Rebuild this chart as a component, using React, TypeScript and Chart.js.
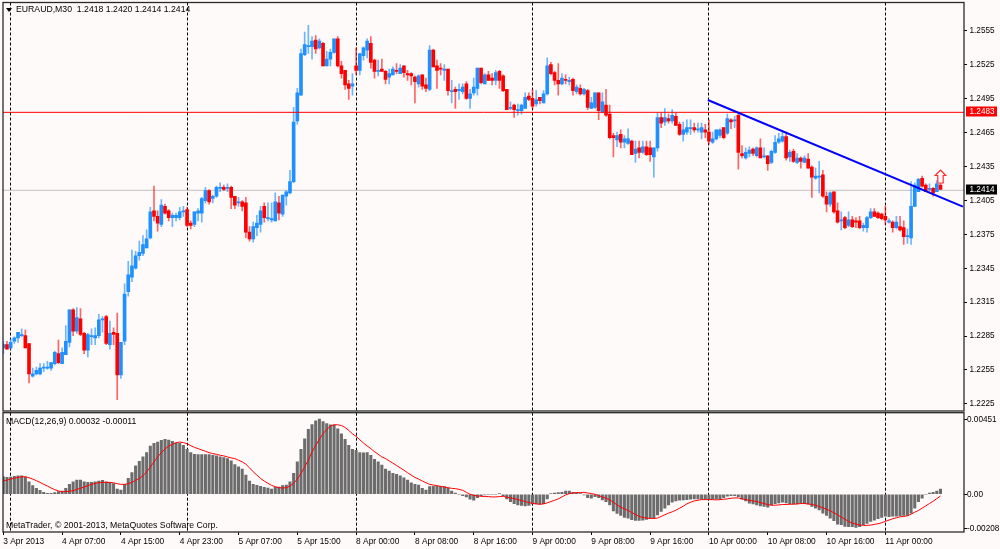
import React, { useEffect, useRef } from "react";
import { Chart, registerables } from "chart.js";

Chart.register(...registerables);

const opens = [
  273,276,273,279,282,284,284,277,248,250,
  250,255,255,255,259,268,259,267,278,307,
  288,299,286,271,283,282,284,298,301,276,
  287,286,249,279,323,336,344,355,357,362,
  371,395,390,383,399,395,389,389,389,394,
  396,384,383,393,393,404,413,406,408,415,
  416,415,416,408,402,403,402,376,370,380,
  383,399,388,387,386,402,392,408,411,421,
  475,498,534,541,541,547,540,544,524,530,
  536,548,524,520,508,506,524,520,533,538,
  544,529,519,521,519,514,516,520,517,524,
  517,517,514,508,516,507,503,538,524,522,
  520,521,501,503,502,501,508,495,500,504,
  522,508,516,513,511,519,515,503,486,489,
  484,484,486,497,495,490,496,491,499,525,
  518,511,508,512,510,512,501,504,499,502,
  486,487,500,483,489,481,462,458,463,456,
  455,457,446,451,447,452,451,443,451,478,
  474,477,475,479,472,463,465,468,469,467,
  465,467,465,456,459,462,469,464,476,475,
  480,446,442,446,450,444,451,443,444,438,
  447,456,457,461,443,448,438,442,438,441,
  434,424,425,427,408,401,412,395,386,389,
  382,387,386,386,380,380,389,394,393,392,
  390,385,385,380,381,380,372,371,399,412,
  424,418,414,415,412,418,
];
const closes = [
  276,272,278,282,287,285,273,250,250,253,
  255,256,256,260,269,260,269,279,307,288,
  300,285,271,285,284,284,298,299,277,286,
  285,249,278,321,338,346,355,358,365,370,
  394,390,384,400,393,389,391,391,394,395,
  382,382,394,395,406,413,403,408,416,416,
  414,416,407,400,403,399,376,370,381,384,
  395,389,389,388,403,393,409,412,421,474,
  500,535,543,542,546,539,546,524,530,536,
  548,524,517,507,504,508,520,535,540,546,
  527,519,520,519,512,517,521,519,522,518,
  516,515,510,515,506,504,538,523,520,521,
  521,502,502,501,503,505,495,499,505,522,
  509,516,511,511,518,511,502,485,487,485,
  485,489,496,494,488,494,493,499,524,517,
  511,508,513,511,511,502,505,499,503,487,
  491,500,484,492,480,460,460,462,456,459,
  459,445,450,447,452,445,445,451,478,473,
  478,475,480,471,463,467,469,469,467,468,
  469,465,457,459,467,467,460,477,474,476,
  447,444,447,449,446,451,442,444,437,448,
  456,459,461,442,447,439,442,439,442,433,
  425,426,426,408,401,411,394,385,387,380,
  387,381,385,380,382,389,394,390,389,388,
  387,386,380,385,378,372,373,399,418,423,
  417,412,415,411,419,414,
];
const highs = [
  279,279,281,283,287,290,289,277,255,256,
  259,259,261,260,270,280,273,293,307,308,
  309,308,287,286,290,291,303,301,302,297,
  291,304,278,330,350,360,359,368,373,378,
  398,417,395,405,401,396,393,393,398,399,
  398,386,394,397,407,416,414,409,417,420,
  418,419,417,408,407,404,407,381,385,391,
  399,402,402,402,411,408,409,413,431,487,
  504,539,554,560,550,551,548,545,537,539,
  548,550,528,520,511,517,540,535,541,548,
  550,530,529,530,520,521,523,526,525,524,
  520,518,515,516,516,513,542,539,529,526,
  525,521,511,505,508,508,510,503,513,522,
  522,517,519,517,520,520,516,503,492,490,
  490,490,500,500,503,502,496,502,531,527,
  519,526,517,516,514,513,507,507,504,503,
  496,500,500,500,503,489,464,465,467,462,
  468,458,457,457,457,457,457,451,482,482,
  486,481,485,482,474,474,476,476,473,473,
  473,472,476,465,467,468,469,481,477,479,
  482,453,451,452,451,452,459,451,444,449,
  462,464,465,465,449,450,446,443,444,446,
  435,433,439,431,412,412,412,402,394,390,
  394,390,389,390,384,390,397,397,394,393,
  399,388,386,390,390,386,379,421,420,424,
  426,419,419,416,422,420,
];
const lows = [
  268,272,272,277,278,283,273,242,247,249,
  249,252,254,253,258,259,259,267,274,284,
  286,284,268,265,276,276,282,287,276,272,
  276,227,246,276,319,332,343,351,355,362,
  370,386,377,381,392,386,381,386,387,390,
  381,379,381,386,385,402,401,402,407,412,
  413,412,397,397,399,395,371,368,367,373,
  376,385,386,385,386,387,390,400,410,420,
  472,498,533,535,530,535,539,524,524,524,
  535,523,513,503,494,498,516,516,529,531,
  522,513,515,519,508,508,516,517,517,514,
  511,507,491,505,503,501,502,523,504,516,
  511,498,491,486,494,499,494,486,498,498,
  508,508,511,507,507,504,501,485,485,478,
  480,481,486,493,486,488,490,491,498,516,
  507,498,507,508,507,498,499,498,498,485,
  486,486,476,482,479,459,443,452,451,451,
  454,445,438,442,446,444,439,425,448,469,
  471,473,473,471,462,457,463,463,465,465,
  459,460,454,455,458,460,459,463,468,469,
  432,442,441,443,444,443,442,442,431,437,
  446,455,456,440,439,438,437,433,438,433,
  407,423,411,407,394,399,393,384,378,379,
  381,380,380,379,377,376,388,390,388,387,
  383,384,376,379,377,365,366,365,399,412,
  416,412,411,408,412,414,
];

// MACD values are stored in units of 0.00001
const macdHist = [
  106,102,104,108,112,112,104,76,52,36,
  24,12,6,6,10,16,20,36,60,76,
  86,86,76,72,72,76,80,84,76,72,
  64,32,26,60,96,132,172,200,226,252,
  292,308,316,326,332,328,320,310,308,296,
  272,252,242,240,240,240,240,236,232,226,
  222,216,202,180,166,152,116,80,60,54,
  48,42,38,32,42,44,52,56,76,126,
  196,272,336,392,422,444,454,440,428,420,
  420,396,366,332,296,272,266,252,250,252,
  236,212,196,176,152,140,126,120,112,100,
  86,70,60,56,36,26,46,48,48,48,
  46,36,20,8,0,-8,-16,-30,-36,-20,
  -8,-4,0,0,0,4,-8,-28,-44,-56,
  -64,-68,-70,-68,-58,-58,-60,-56,-28,4,
  8,10,12,20,20,12,10,4,-4,-20,
  -24,-14,-20,-34,-44,-64,-100,-116,-128,-140,
  -144,-154,-158,-158,-156,-152,-144,-144,-124,-104,
  -84,-64,-48,-40,-36,-34,-32,-30,-28,-28,
  -28,-28,-28,-28,-28,-26,-20,-12,-8,-8,
  -14,-30,-40,-54,-58,-64,-70,-74,-78,-64,
  -56,-52,-48,-52,-58,-58,-58,-54,-56,-60,
  -74,-84,-94,-114,-128,-144,-160,-180,-184,-194,
  -196,-196,-200,-196,-184,-176,-164,-156,-148,-140,
  -132,-136,-132,-132,-130,-128,-128,-114,-84,-44,
  -24,0,8,12,20,32,
];
const macdSignal = [
  80,86,92,98,102,106,106,100,92,82,
  72,60,50,38,28,20,16,16,18,22,
  30,36,44,52,60,66,70,72,72,72,
  70,64,60,60,64,72,84,96,112,136,
  164,196,226,252,274,292,302,312,316,312,
  306,294,284,276,268,260,252,246,242,236,
  232,226,220,216,206,196,182,160,136,116,
  96,80,66,54,46,40,38,40,50,66,
  92,126,166,206,256,296,332,366,392,412,
  420,420,416,404,386,366,350,330,310,292,
  276,258,242,226,216,202,188,174,160,146,
  130,116,102,92,80,70,60,56,52,48,
  44,40,36,34,30,24,12,0,-6,-10,
  -12,-14,-14,-16,-16,-14,-12,-18,-22,-26,
  -32,-38,-44,-50,-54,-58,-60,-58,-52,-44,
  -36,-28,-16,-4,4,8,10,10,12,8,
  4,0,-8,-16,-24,-34,-48,-64,-78,-88,
  -98,-110,-122,-134,-140,-144,-146,-146,-144,-134,
  -124,-114,-106,-96,-84,-72,-58,-48,-40,-36,
  -32,-32,-32,-32,-34,-32,-30,-28,-24,-22,
  -22,-28,-32,-36,-40,-44,-50,-56,-62,-66,
  -66,-64,-62,-62,-60,-60,-58,-56,-56,-58,
  -62,-66,-74,-82,-90,-100,-112,-124,-138,-150,
  -164,-174,-180,-186,-188,-188,-186,-182,-178,-172,
  -164,-156,-148,-142,-136,-134,-130,-120,-108,-98,
  -84,-70,-56,-42,-26,-11,
];

const timeLabels = [
  "3 Apr 2013","4 Apr 07:00","4 Apr 15:00","4 Apr 23:00","5 Apr 07:00","5 Apr 15:00",
  "8 Apr 00:00","8 Apr 08:00","8 Apr 16:00","9 Apr 00:00","9 Apr 08:00","9 Apr 16:00",
  "10 Apr 00:00","10 Apr 08:00","10 Apr 16:00","11 Apr 00:00",
];
const barsPerLabel = 16;
const daySeparators = [2, 50, 96, 144, 192, 240];
const priceTicks = [1.2225,1.2255,1.2285,1.2315,1.2345,1.2375,1.2405,1.2435,1.2465,1.2495,1.2525,1.2555];
const macdTicks = [-0.00208, 0, 0.00451];
const bidPrice = 1.2414;
const levelPrice = 1.2483;
const trendStart = { x: 191.7, y: 1.24939 };
const trendEnd = { x: 261.1, y: 1.23995 };
const arrowBar = 255;
const arrowPrice = 1.24262;
const titleText = "EURAUD,M30  1.2418 1.2420 1.2414 1.2414";
const macdText = "MACD(12,26,9) 0.00032 -0.00011";
const copyrightText = "MetaTrader, \u00A9 2001-2013, MetaQuotes Software Corp.";

const BG = "#FFFAFA";
const UP = "#1E90FF";
const DOWN = "#FF0000";
const UP_WICK = "rgba(30,144,255,0.65)";
const DOWN_WICK = "rgba(255,0,0,0.6)";
const FONT = "Liberation Sans";
const TEXT_SIZE = 8.7;
const X_MIN = -0.082;
const X_MAX = 261.4;
// axis calibration refinement of the pip readings, anchored on the 1.2555 tick
const toPrice = (p: number) => 1.2 + (555 - (555 - p) * 0.9947) / 10000;

const noPadding = (ax: any) => {
  ax.paddingTop = 0;
  ax.paddingBottom = 0;
  ax.paddingLeft = 0;
  ax.paddingRight = 0;
};

const separatorsPlugin = {
  id: "separators",
  beforeDatasetsDraw(chart: any) {
    const { ctx, chartArea: a, scales } = chart;
    ctx.save();
    ctx.strokeStyle = "#000";
    ctx.lineWidth = 1;
    ctx.setLineDash([3, 2]);
    daySeparators.forEach((i) => {
      const x = Math.floor(scales.x.getPixelForValue(i)) + 0.5;
      ctx.beginPath();
      ctx.moveTo(x, a.top);
      ctx.lineTo(x, a.bottom);
      ctx.stroke();
    });
    ctx.restore();
  },
};

const framePlugin = {
  id: "frame",
  afterDraw(chart: any) {
    const { ctx, chartArea: a } = chart;
    ctx.save();
    ctx.strokeStyle = "#2a2a2a";
    ctx.lineWidth = 1.3;
    ctx.strokeRect(a.left, a.top, a.right - a.left, a.bottom - a.top);
    ctx.restore();
  },
};

const priceOverlayPlugin = {
  id: "priceOverlay",
  afterDraw(chart: any) {
    const { ctx, chartArea: a, scales } = chart;
    ctx.save();
    const box = (price: number, fill: string) => {
      const y = scales.y.getPixelForValue(price);
      ctx.fillStyle = fill;
      ctx.fillRect(966, Math.round(y) - 5.5, 31, 10);
      ctx.fillStyle = "#fff";
      ctx.font = `8.2px '${FONT}'`;
      ctx.textAlign = "left";
      ctx.textBaseline = "middle";
      ctx.fillText(price.toFixed(4), 969.5, Math.round(y));
    };
    box(levelPrice, "#FF0000");
    box(bidPrice, "#000");

    // buy arrow
    const ax = scales.x.getPixelForValue(arrowBar);
    const ay = scales.y.getPixelForValue(arrowPrice);
    ctx.strokeStyle = "#FF3030";
    ctx.fillStyle = BG;
    ctx.lineWidth = 1.2;
    ctx.beginPath();
    ctx.moveTo(ax, ay - 6.5);
    ctx.lineTo(ax + 5.3, ay - 1);
    ctx.lineTo(ax + 2.7, ay - 1);
    ctx.lineTo(ax + 2.7, ay + 6.5);
    ctx.lineTo(ax - 2.7, ay + 6.5);
    ctx.lineTo(ax - 2.7, ay - 1);
    ctx.lineTo(ax - 5.3, ay - 1);
    ctx.closePath();
    ctx.fill();
    ctx.stroke();

    // header
    ctx.fillStyle = "#000";
    ctx.beginPath();
    ctx.moveTo(a.left + 3, 8);
    ctx.lineTo(a.left + 9, 8);
    ctx.lineTo(a.left + 6, 12);
    ctx.closePath();
    ctx.fill();
    ctx.font = `${TEXT_SIZE}px '${FONT}'`;
    ctx.textAlign = "left";
    ctx.textBaseline = "middle";
    ctx.fillText(titleText, 16, 9.5);
    ctx.restore();
  },
};

const macdOverlayPlugin = {
  id: "macdOverlay",
  afterDraw(chart: any) {
    const { ctx } = chart;
    ctx.save();
    ctx.fillStyle = "#000";
    ctx.font = `${TEXT_SIZE}px '${FONT}'`;
    ctx.textAlign = "left";
    ctx.textBaseline = "middle";
    ctx.fillText(macdText, 6, 10.5);
    ctx.fillText(copyrightText, 6, 114.7);
    ctx.restore();
  },
};

export default function App() {
  const topRef = useRef<HTMLCanvasElement>(null);
  const botRef = useRef<HTMLCanvasElement>(null);

  useEffect(() => {
    const indices = opens.map((_, i) => i);
    const colorOf = (i: number, up: string, down: string) => (closes[i] >= opens[i] ? up : down);
    const xBase = { type: "linear" as const, min: X_MIN, max: X_MAX, offset: false };

    const top = new Chart(topRef.current as HTMLCanvasElement, {
      type: "bar",
      data: {
        datasets: [
          {
            type: "line",
            data: [trendStart, trendEnd],
            borderColor: "#0000FF",
            borderWidth: 2,
            pointRadius: 0,
            order: 0,
          },
          {
            type: "line",
            data: [{ x: X_MIN, y: levelPrice }, { x: X_MAX, y: levelPrice }],
            borderColor: "#FF0000",
            borderWidth: 1,
            pointRadius: 0,
            order: 1,
          },
          {
            type: "bar",
            data: indices.map((i) => ({ x: i, y: [toPrice(opens[i]), toPrice(closes[i])] })),
            backgroundColor: indices.map((i) => colorOf(i, UP, DOWN)),
            barThickness: 3,
            grouped: false,
            order: 2,
          },
          {
            type: "bar",
            data: indices.map((i) => ({ x: i, y: [toPrice(lows[i]), toPrice(highs[i])] })),
            backgroundColor: indices.map((i) => colorOf(i, UP_WICK, DOWN_WICK)),
            barThickness: 1,
            grouped: false,
            order: 3,
          },
          {
            type: "line",
            data: [{ x: X_MIN, y: bidPrice }, { x: X_MAX, y: bidPrice }],
            borderColor: "#C0C0C0",
            borderWidth: 1,
            pointRadius: 0,
            order: 4,
          },
        ] as any,
      },
      options: {
        responsive: false,
        animation: false,
        events: [],
        layout: { padding: { left: 3, top: 2.5, bottom: 1, right: 0 } },
        plugins: { legend: { display: false }, tooltip: { enabled: false } },
        scales: {
          x: { ...xBase, display: false, afterFit: noPadding },
          y: {
            type: "linear",
            position: "right",
            min: 1.22187,
            max: 1.25802,
            afterBuildTicks: (ax: any) => {
              ax.ticks = priceTicks.map((value) => ({ value }));
            },
            afterFit: (ax: any) => {
              ax.width = 36;
              noPadding(ax);
            },
            border: { display: false },
            grid: { drawOnChartArea: false, tickLength: 3, color: "#000" },
            ticks: {
              callback: (v: any) => Number(v).toFixed(4),
              font: { family: FONT, size: 8.2 },
              color: "#000",
              padding: 2.5,
              autoSkip: false,
            },
          },
        },
      } as any,
      plugins: [separatorsPlugin, framePlugin, priceOverlayPlugin] as any,
    });

    const bottom = new Chart(botRef.current as HTMLCanvasElement, {
      type: "bar",
      data: {
        datasets: [
          {
            type: "line",
            data: indices.map((i) => ({ x: i, y: macdSignal[i] / 100000 })),
            borderColor: "#FF0000",
            borderWidth: 1,
            pointRadius: 0,
            order: 0,
          },
          {
            type: "bar",
            data: indices.map((i) => ({ x: i, y: macdHist[i] / 100000 })),
            backgroundColor: "#6c6c6c",
            barThickness: 2.4,
            grouped: false,
            order: 1,
          },
        ] as any,
      },
      options: {
        responsive: false,
        animation: false,
        events: [],
        layout: { padding: { left: 3, top: 1.7, bottom: 0, right: 0 } },
        plugins: { legend: { display: false }, tooltip: { enabled: false } },
        scales: {
          x: {
            ...xBase,
            position: "bottom",
            afterBuildTicks: (ax: any) => {
              ax.ticks = timeLabels.map((_, k) => ({ value: k * barsPerLabel }));
            },
            afterFit: (ax: any) => {
              ax.height = 17;
              noPadding(ax);
            },
            border: { display: false },
            grid: { drawOnChartArea: false, offset: false, tickLength: 3, color: "#000" },
            ticks: {
              callback: (v: any) => timeLabels[Math.round(Number(v) / barsPerLabel)],
              font: { family: FONT, size: 8.4 },
              color: "#000",
              align: "start",
              maxRotation: 0,
              autoSkip: false,
              padding: 2,
            },
          },
          y: {
            type: "linear",
            position: "right",
            min: -0.00228,
            max: 0.004933,
            afterBuildTicks: (ax: any) => {
              ax.ticks = macdTicks.map((value) => ({ value }));
            },
            afterFit: (ax: any) => {
              ax.width = 36;
              noPadding(ax);
            },
            border: { display: false },
            grid: { drawOnChartArea: false, tickLength: 3, color: "#000" },
            ticks: {
              callback: (v: any) => (Number(v) === 0 ? "0.00" : Number(v).toFixed(5)),
              font: { family: FONT, size: 8.2 },
              color: "#000",
              padding: 0,
              autoSkip: false,
            },
          },
        },
      } as any,
      plugins: [separatorsPlugin, framePlugin, macdOverlayPlugin] as any,
    });

    return () => {
      top.destroy();
      bottom.destroy();
    };
  }, []);

  return (
    <div style={{ position: "absolute", left: 0, top: 0, width: 1000, height: 549, background: BG, overflow: "hidden" }}>
      <canvas ref={topRef} width={1000} height={412} style={{ position: "absolute", left: 0, top: 0, display: "block" }} />
      <canvas ref={botRef} width={1000} height={138} style={{ position: "absolute", left: 0, top: 411, display: "block" }} />
    </div>
  );
}
